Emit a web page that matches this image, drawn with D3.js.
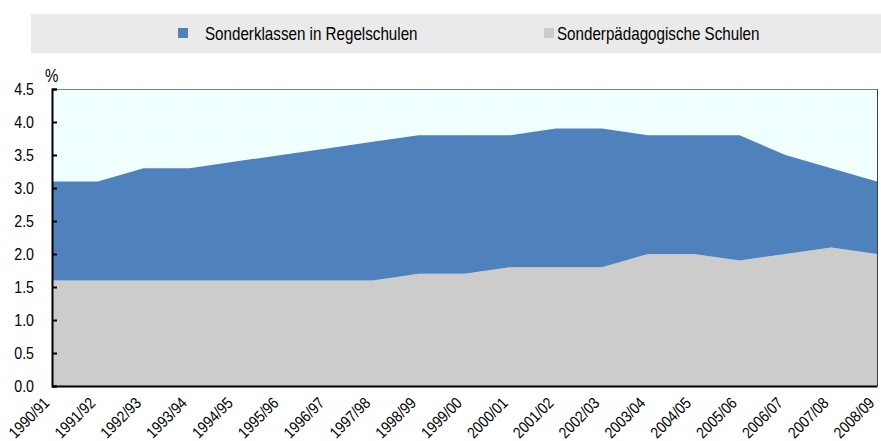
<!DOCTYPE html>
<html>
<head>
<meta charset="utf-8">
<script src="https://cdn.jsdelivr.net/npm/d3@7"></script>
<style>
  html, body { margin: 0; padding: 0; background: #ffffff; }
  svg { display: block; }
  text { font-family: "Liberation Sans Narrow", "Arial Narrow", "Liberation Sans", Arial, sans-serif; fill: #000; }
</style>
</head>
<body>
<svg id="chart" width="881" height="441"></svg>
<script>
// School years on the horizontal axis
const years = ["1990/91","1991/92","1992/93","1993/94","1994/95","1995/96","1996/97","1997/98","1998/99","1999/00","2000/01","2001/02","2002/03","2003/04","2004/05","2005/06","2006/07","2007/08","2008/09"];

// Share of pupils (%) in special schools (bottom layer)
const sonderpaedagogischeSchulen = [1.6,1.6,1.6,1.6,1.6,1.6,1.6,1.6,1.7,1.7,1.8,1.8,1.8,2.0,2.0,1.9,2.0,2.1,2.0];
// Share of pupils (%) in special classes within mainstream schools (stacked on top)
const sonderklassenInRegelschulen = [1.5,1.5,1.7,1.7,1.8,1.9,2.0,2.1,2.1,2.1,2.0,2.1,2.1,1.8,1.8,1.9,1.5,1.2,1.1];

const yTicks = [0,0.5,1.0,1.5,2.0,2.5,3.0,3.5,4.0,4.5];

const seriesNames = ["Sonderklassen in Regelschulen", "Sonderpädagogische Schulen"];
const seriesColors = { "Sonderklassen in Regelschulen": "#4F81BD", "Sonderpädagogische Schulen": "#CCCCCC" };

const svg = d3.select("#chart");
const plot = { left: 52, right: 877, top: 89, bottom: 386 };

// Condense a text horizontally (narrow face look) keeping its anchor
function narrow(sel, factor) {
  sel.each(function () {
    const len = this.getComputedTextLength();
    d3.select(this).attr("textLength", len * factor).attr("lengthAdjust", "spacingAndGlyphs");
  });
}

const x = d3.scalePoint().domain(years).range([plot.left, plot.right]);
const y = d3.scaleLinear().domain([0, 4.5]).range([plot.bottom, plot.top]);

// Legend band
const legend = svg.append("g");
legend.append("rect").attr("x", 31).attr("y", 14).attr("width", 850).attr("height", 39).attr("fill", "#EAEAEA");
const legendItems = [
  { name: seriesNames[0], sx: 178, tx: 205 },
  { name: seriesNames[1], sx: 544, tx: 557 }
];
legendItems.forEach(d => {
  legend.append("rect").attr("x", d.sx).attr("y", 28).attr("width", 10).attr("height", 10).attr("fill", seriesColors[d.name]);
  legend.append("text").attr("x", d.tx).attr("y", 39.5).attr("font-size", 18.5).text(d.name).call(narrow, 0.82);
});

// Plot background
svg.append("rect")
  .attr("x", plot.left).attr("y", plot.top)
  .attr("width", plot.right - plot.left).attr("height", plot.bottom - plot.top)
  .attr("fill", "#F0FFFF");

// Light grid
const grid = svg.append("g").attr("stroke", "#ffffff").attr("stroke-width", 1);
grid.selectAll("line.v").data(years).join("line")
  .attr("x1", d => x(d)).attr("x2", d => x(d))
  .attr("y1", plot.top).attr("y2", plot.bottom);
grid.selectAll("line.h").data(yTicks).join("line")
  .attr("x1", plot.left).attr("x2", plot.right)
  .attr("y1", d => y(d)).attr("y2", d => y(d));

// Stacked areas
const table = years.map((yr, i) => ({
  year: yr,
  "Sonderpädagogische Schulen": sonderpaedagogischeSchulen[i],
  "Sonderklassen in Regelschulen": sonderklassenInRegelschulen[i]
}));
const stack = d3.stack().keys(["Sonderpädagogische Schulen", "Sonderklassen in Regelschulen"]);
const layers = stack(table);
const area = d3.area()
  .x(d => x(d.data.year))
  .y0(d => y(d[0]))
  .y1(d => y(d[1]));
svg.append("g").selectAll("path").data(layers).join("path")
  .attr("d", area)
  .attr("fill", d => seriesColors[d.key]);

// Frame: top and right thin, axes bold
svg.append("line").attr("x1", plot.left).attr("x2", plot.right).attr("y1", plot.top + 0.5).attr("y2", plot.top + 0.5).attr("stroke", "#808080").attr("stroke-width", 1);
svg.append("line").attr("x1", plot.right + 0.5).attr("x2", plot.right + 0.5).attr("y1", plot.top).attr("y2", plot.bottom).attr("stroke", "#404040").attr("stroke-width", 1);

// Y axis
const yAxis = d3.axisLeft(y).tickValues(yTicks).tickFormat(d3.format(".1f")).tickSize(-5).tickPadding(18);
const yg = svg.append("g").attr("transform", `translate(${plot.left},0)`).call(yAxis);
yg.select(".domain").attr("stroke", "#000").attr("stroke-width", 2);
yg.selectAll(".tick line").attr("stroke", "#000").attr("stroke-width", 2);
yg.selectAll(".tick text").attr("font-size", 16.5).attr("font-family", null).attr("fill", "#000").call(narrow, 0.86);

// X axis
const xAxis = d3.axisBottom(x).tickSize(0).tickPadding(0);
const xg = svg.append("g").attr("transform", `translate(0,${plot.bottom})`).call(xAxis);
xg.select(".domain").attr("stroke", "#000").attr("stroke-width", 2);
xg.selectAll(".tick text")
  .attr("font-size", 16).attr("font-family", null).attr("fill", "#000")
  .attr("text-anchor", "end")
  .attr("y", 0)
  .attr("dy", null)
  .attr("transform", "translate(-2,18) rotate(-45)")
  .call(narrow, 0.86);

// Unit label
svg.append("text").attr("x", 45).attr("y", 82).attr("font-size", 17.5).text("%").call(narrow, 0.86);
</script>
</body>
</html>
